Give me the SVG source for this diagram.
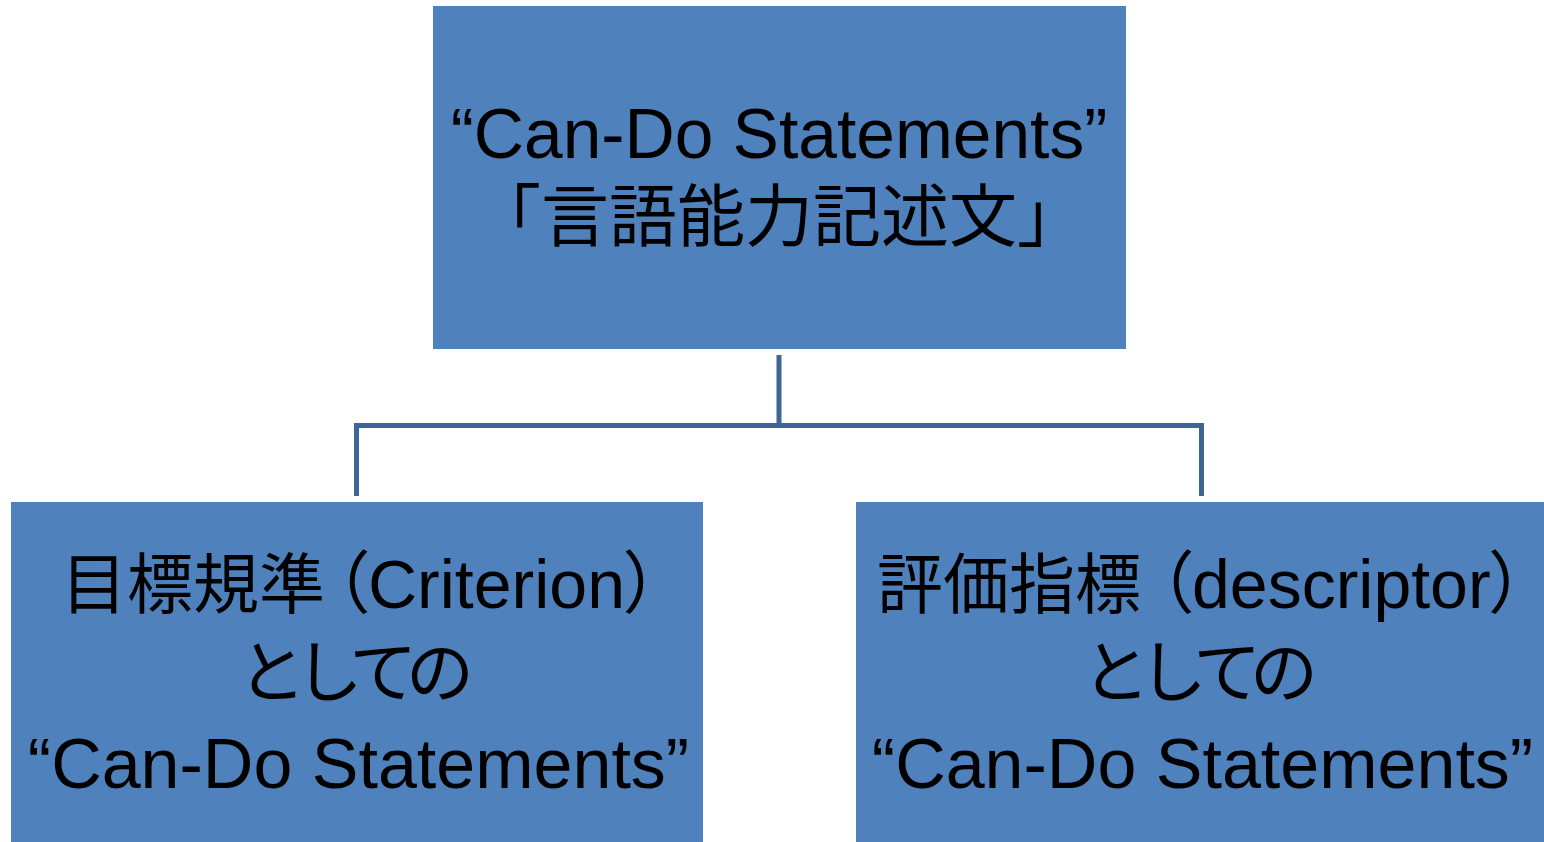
<svg xmlns="http://www.w3.org/2000/svg" width="1544" height="842" viewBox="0 0 1544 842">
<style>
.box{fill:#4F81BD;}
.t{font-family:"Liberation Sans","Noto Sans CJK JP",sans-serif;font-size:68px;fill:#000;text-anchor:middle;}
.s{text-anchor:start;}
.k{font-size:66px;}
.q{font-size:70px;}
.p{font-feature-settings:"palt" 1;}
.c{fill:none;stroke:#3D6697;stroke-width:5;}
</style>
<rect width="1544" height="842" fill="#fff"/>
<g id="connectors">
<path class="c" d="M779 355V425.5M356.5 496V425.5H1201.5V496"/>
</g>
<g id="top">
<rect class="box" x="433" y="6" width="693" height="343"/>
<text class="t" x="779" y="158" style="font-size:69.5px">“Can-Do Statements”</text>
<text class="t" x="779" y="241">「言語能力記述文」</text>
</g>
<g id="left">
<rect class="box" x="11" y="502" width="692" height="340"/>
<text class="t s" y="608"><tspan class="k" x="61">目標規準</tspan><tspan class="p" x="334">（Criterion）</tspan></text>
<text class="t" x="356" y="697" textLength="236" lengthAdjust="spacing">としての</text>
<text class="t q" x="358.5" y="788">“Can-Do Statements”</text>
</g>
<g id="right">
<rect class="box" x="856" y="502" width="688" height="340"/>
<text class="t s" y="608"><tspan class="k" x="877">評価指標</tspan><tspan class="p" x="1158">（descriptor）</tspan></text>
<text class="t" x="1200" y="697" textLength="236" lengthAdjust="spacing">としての</text>
<text class="t q" x="1202.5" y="788">“Can-Do Statements”</text>
</g>
</svg>
